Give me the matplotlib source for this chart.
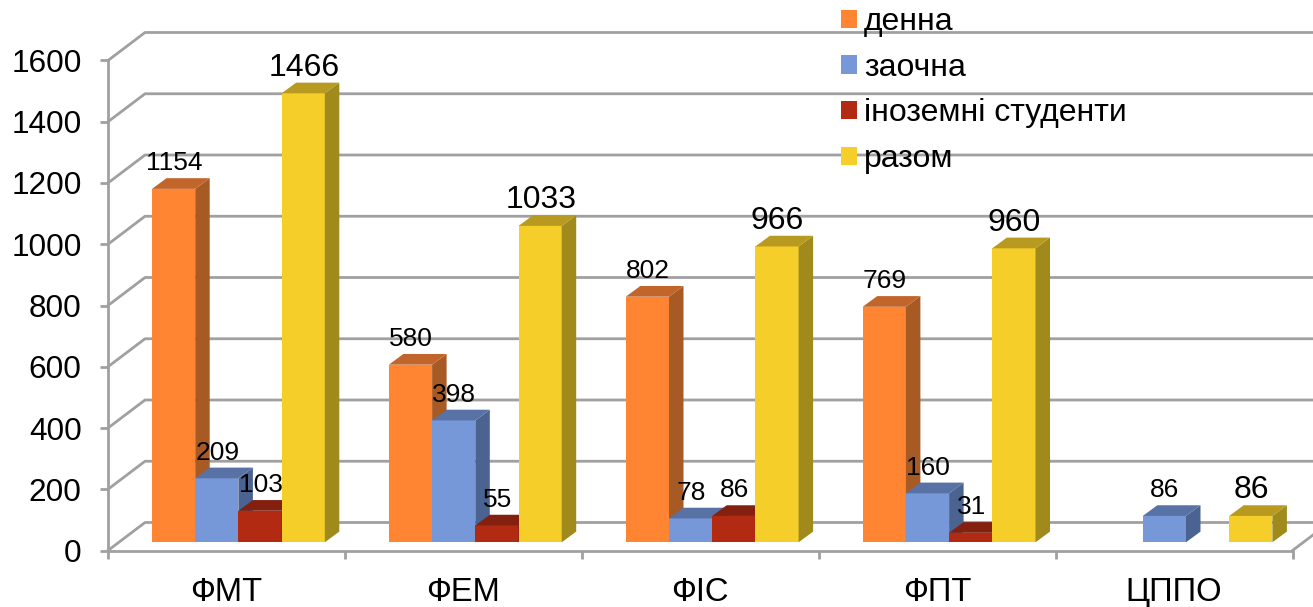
import numpy as np
import matplotlib
matplotlib.use("Agg")
import matplotlib.pyplot as plt

plt.rcParams['font.family'] = ['Liberation Sans', 'DejaVu Sans']

categories = ["ФМТ", "ФЕМ", "ФІС", "ФПТ", "ЦППО"]
series_names = ["денна", "заочна", "іноземні студенти", "разом"]
denna = [1154, 580, 802, 769, np.nan]
zaochna = [209, 398, 78, 160, 86]
inozemni = [103, 55, 86, 31, np.nan]
razom = [1466, 1033, 966, 960, 86]
yticks = [0, 200, 400, 600, 800, 1000, 1200, 1400, 1600]

front = ["#FF8533", "#7698D8", "#B32A13", "#F5CE2A"]
side = ["#A85A25", "#4A6390", "#842010", "#A08A1C"]
top = ["#C2652A", "#5872A5", "#842010", "#B99A20"]

W, H = 1313, 607
fig = plt.figure(figsize=(W / 100, H / 100), dpi=100)
x0, x1, y0, y1 = 108, 1292.5, 550.5, 60.5
ax = fig.add_axes([x0 / W, 1 - y0 / H, (x1 - x0) / W, (y0 - y1) / H])
ax.set_xlim(0, 5)
ax.set_ylim(0, 1600)
px_x = 5 / (x1 - x0)
px_y = 1600 / (y0 - y1)

grid = "#A0A0A0"
lw = 2.0

# walls
wall_dx, wall_dy = 37 * px_x, 28 * px_y
for v in yticks:
    ax.plot([0, wall_dx, 5 + wall_dx], [v, v + wall_dy, v + wall_dy], color=grid, lw=lw, zorder=1, clip_on=False)
ax.plot([5, 5 + wall_dx], [0, wall_dy], color=grid, lw=lw, zorder=1, clip_on=False)

# bars
base = 8.2 * px_y
first = 44 * px_x
bw = 43.2 * px_x
dx, dy = 14.5 * px_x, 10.7 * px_y
all_vals = [denna, zaochna, inozemni, razom]
for i, vals in enumerate(all_vals):
    xs = np.arange(5) + first + i * bw
    ax.bar(xs, vals, bw, bottom=base, align="edge", color=front[i], label=series_names[i], zorder=3 + i, clip_on=False)
    for x, v in zip(xs, vals):
        if np.isnan(v):
            continue
        t = base + v
        ax.fill([x + bw, x + bw + dx, x + bw + dx, x + bw], [base, base + dy, t + dy, t], color=side[i], lw=0, zorder=3 + i, clip_on=False)
        ax.fill([x, x + dx, x + bw + dx, x + bw], [t, t + dy, t + dy, t], color=top[i], lw=0, zorder=3 + i, clip_on=False)
        ax.annotate(f"{v:.0f}", (x + bw / 2, t), xytext=(0.4, 18.4), textcoords="offset points", ha="center", va="center",
                    fontsize=23 if i == 3 else 19, color="black", zorder=10)

for s in ["top", "right"]:
    ax.spines[s].set_visible(False)
for s in ["left", "bottom"]:
    ax.spines[s].set_color(grid)
    ax.spines[s].set_linewidth(lw)

ax.set_yticks(yticks)
ax.tick_params(axis="y", length=6, width=lw, color=grid, labelsize=22.7, pad=13)
ax.set_xticks(np.arange(6))
ax.set_xticklabels([])
ax.tick_params(axis="x", length=6, width=lw, color=grid)
ax.set_xticks(np.arange(5) + 0.5, labels=categories, minor=True)
ax.tick_params(axis="x", which="minor", length=0, labelsize=23.6, pad=19)

fig.legend(loc="upper left", bbox_to_anchor=(836 / W, 1 - 2 / H), frameon=False, fontsize=23,
           handlelength=0.5, handleheight=0.5, handletextpad=0.22, labelspacing=0.49, borderpad=0.16, borderaxespad=0)

fig.savefig("out.png", dpi=100)
